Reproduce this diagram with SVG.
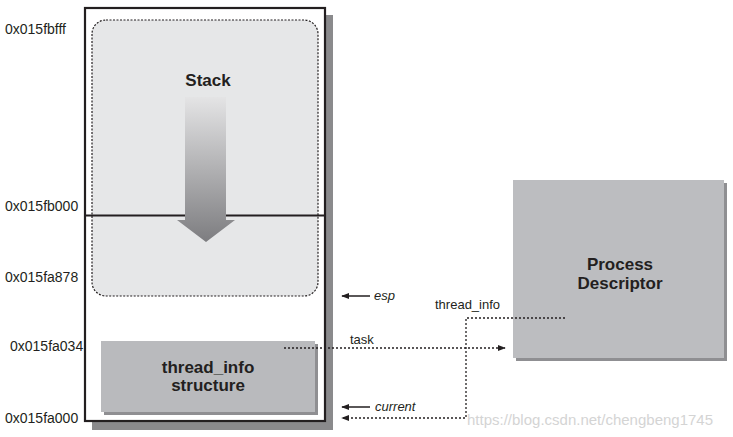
<svg xmlns="http://www.w3.org/2000/svg" width="733" height="437" viewBox="0 0 733 437">
<defs>
<style>
.t{font-family:"Liberation Sans Narrow","Liberation Sans",Arial,sans-serif;fill:#231f20}
.addr{font-size:14px}
.b{font-weight:bold;font-size:17px;text-anchor:middle}
.lbl{font-size:13px}
.it{font-style:italic;font-size:13px}
.dash{fill:none;stroke:#231f20;stroke-width:1.3;stroke-dasharray:2 2}
.solid{fill:none;stroke:#231f20;stroke-width:1.5}
</style>
<linearGradient id="g" x1="0" y1="0" x2="0" y2="1">
<stop offset="0" stop-color="#e4e4e5"/>
<stop offset="1" stop-color="#7d7d80"/>
</linearGradient>
<marker id="ah" viewBox="0 0 10 10" refX="9" refY="5" markerWidth="8" markerHeight="8" markerUnits="userSpaceOnUse" orient="auto">
<path d="M0,1 L10,5 L0,9 z" fill="#231f20"/>
</marker>
</defs>
<rect width="733" height="437" fill="#ffffff"/>

<g id="memory">
<rect x="92" y="15" width="241" height="415" fill="#8a8a8c"/>
<rect x="85" y="8" width="240" height="413" fill="#ffffff" stroke="#231f20" stroke-width="2.2"/>
</g>

<g id="stack">
<rect x="92" y="20" width="226" height="276" rx="14" fill="#e6e7e8" stroke="#231f20" stroke-width="1.2" stroke-dasharray="2 1.5"/>
<line x1="85" y1="215.5" x2="325" y2="215.5" stroke="#231f20" stroke-width="2"/>
<path d="M185,97 L226,97 L226,220 L235,220 L206,242 L177,220 L185,220 z" fill="url(#g)"/>
<text class="t b" x="208" y="86">Stack</text>
</g>

<g id="thread_info">
<rect x="104" y="344" width="214" height="71" fill="#8f8f92"/>
<rect x="101" y="341" width="214" height="71" fill="#b9babd"/>
<text class="t b" x="208" y="373">thread_info</text>
<text class="t b" x="208" y="391">structure</text>
</g>

<g id="process_descriptor">
<rect x="516" y="183" width="211" height="178" fill="#8f8f92"/>
<rect x="513" y="180" width="211" height="178" fill="#bcbdc0"/>
<text class="t b" x="620" y="270">Process</text>
<text class="t b" x="620" y="289">Descriptor</text>
</g>

<g id="addresses">
<text class="t addr" x="5" y="34">0x015fbfff</text>
<text class="t addr" x="5" y="211">0x015fb000</text>
<text class="t addr" x="5" y="282">0x015fa878</text>
<text class="t addr" x="10" y="351">0x015fa034</text>
<text class="t addr" x="5" y="423">0x015fa000</text>
</g>

<g id="connectors">
<line class="solid" x1="370" y1="296" x2="342" y2="296" marker-end="url(#ah)"/>
<line class="solid" x1="370" y1="407" x2="342" y2="407" marker-end="url(#ah)"/>
<line class="dash" x1="284" y1="348" x2="505" y2="348" marker-end="url(#ah)"/>
<polyline class="dash" points="565,318 466,318 466,418 342,418" marker-end="url(#ah)"/>
<text class="t it" x="374" y="300">esp</text>
<text class="t it" x="375" y="411">current</text>
<text class="t lbl" x="350" y="344">task</text>
<text class="t lbl" x="435" y="309">thread_info</text>
</g>

<text x="467" y="425" style="font-family:'Liberation Sans',Arial,sans-serif;font-size:15px;fill:#d4d4d4">https://blog.csdn.net/chengbeng1745</text>
</svg>
